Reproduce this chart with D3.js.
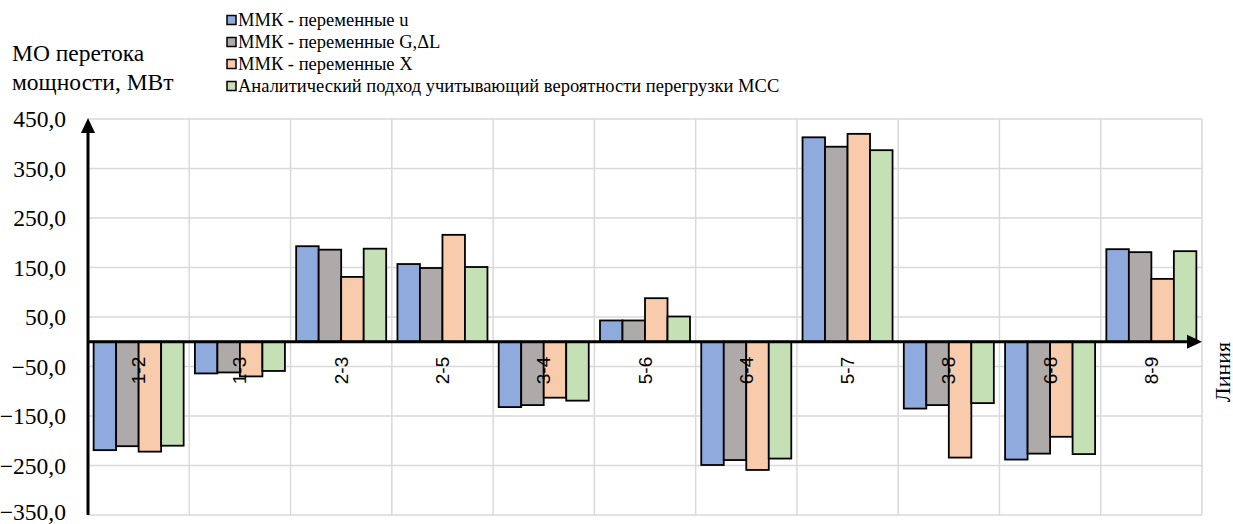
<!DOCTYPE html>
<html>
<head>
<meta charset="utf-8">
<script src="https://cdn.jsdelivr.net/npm/d3@7"></script>
<style>
  html, body { margin: 0; padding: 0; background: #fff; }
  svg { display: block; }
  .serif { font-family: "Liberation Serif", "DejaVu Serif", "Times New Roman", Times, serif; }
  .sans { font-family: "Liberation Sans", Arial, sans-serif; }
</style>
</head>
<body>
<svg id="chart" width="1233" height="524"></svg>
<script>
// Transmission lines (categories)
const lines = ["1-2", "1-3", "2-3", "2-5", "3-4", "5-6", "6-4", "5-7", "3-8", "6-8", "8-9"];

// Expected power flow, MW, for each method
const mmkU     = [-219, -64, 193, 157, -132, 43, -249, 413, -135, -238, 187];
const mmkGdL   = [-211, -62, 186, 149, -128, 43, -239, 394, -128, -226, 181];
const mmkX     = [-222, -70, 131, 216, -113, 88, -259, 420, -234, -192, 127];
const analytic = [-210, -59, 188, 151, -119, 51, -236, 387, -124, -227, 183];

const seriesNames = [
  "ММК - переменные u",
  "ММК - переменные G,\u0394L",
  "ММК - переменные X",
  "Аналитический подход учитывающий вероятности перегрузки МСС"
];
const seriesColors = ["#8faadc", "#aeaaaa", "#f8cbad", "#c5e0b4"];

const yTicks = [450, 350, 250, 150, 50, -50, -150, -250, -350];
const yMin = -350, yMax = 450;

const svg = d3.select("#chart");

const plot = { left: 88, right: 1202, top: 119, bottom: 515 };

const x0 = d3.scaleBand().domain(lines).range([plot.left, plot.right]).padding(0);
const bw = x0.bandwidth();
const gap = bw * (0.5 / 4.5);
const x1 = d3.scaleBand().domain(d3.range(4)).range([gap / 2, bw - gap / 2]).padding(0);
const y = d3.scaleLinear().domain([yMin, yMax]).range([plot.bottom, plot.top]);

const series = [mmkU, mmkGdL, mmkX, analytic];

// Grid
const grid = svg.append("g");
grid.selectAll("line.h").data(yTicks).join("line")
  .attr("x1", plot.left).attr("x2", plot.right)
  .attr("y1", d => y(d)).attr("y2", d => y(d))
  .attr("stroke", "#d9d9d9").attr("stroke-width", 1.5);
grid.selectAll("line.v").data(lines.map(l => x0(l) + bw)).join("line")
  .attr("x1", d => d).attr("x2", d => d)
  .attr("y1", plot.top).attr("y2", plot.bottom)
  .attr("stroke", "#d9d9d9").attr("stroke-width", 1.5);

// Bars
const groups = svg.append("g").selectAll("g").data(lines).join("g")
  .attr("transform", d => `translate(${x0(d)},0)`);
groups.selectAll("rect")
  .data((d, i) => series.map((s, k) => ({ k, v: s[i] })))
  .join("rect")
  .attr("x", d => x1(d.k))
  .attr("width", x1.bandwidth())
  .attr("y", d => Math.min(y(d.v), y(0)))
  .attr("height", d => Math.abs(y(d.v) - y(0)))
  .attr("fill", d => seriesColors[d.k])
  .attr("stroke", "#000").attr("stroke-width", 1.8);

// Category labels, rotated, just below the zero line
svg.append("g").selectAll("text").data(lines).join("text")
  .attr("class", "sans")
  .attr("transform", d => `translate(${x0(d) + bw / 2},${y(0) + 15}) rotate(-90)`)
  .attr("text-anchor", "end")
  .attr("dominant-baseline", "central")
  .style("font-size", "19px")
  .attr("fill", "#000")
  .text(d => d);

// Y tick labels
svg.append("g").selectAll("text").data(yTicks).join("text")
  .attr("class", "serif")
  .attr("x", 66).attr("y", d => Math.min(y(d), 512))
  .attr("text-anchor", "end")
  .attr("dominant-baseline", "central")
  .style("font-size", "23.5px")
  .text(d => d3.format(".1f")(d).replace(".", ","));

// Axes with arrowheads
const axes = svg.append("g");
axes.append("line")
  .attr("x1", plot.left).attr("x2", plot.left)
  .attr("y1", plot.bottom).attr("y2", plot.top + 10)
  .attr("stroke", "#000").attr("stroke-width", 3);
axes.append("path")
  .attr("d", `M${plot.left},${plot.top - 1} L${plot.left - 7},${plot.top + 14} L${plot.left + 7},${plot.top + 14} Z`)
  .attr("fill", "#000");
axes.append("line")
  .attr("x1", plot.left).attr("x2", plot.right - 10)
  .attr("y1", y(0)).attr("y2", y(0))
  .attr("stroke", "#000").attr("stroke-width", 3);
axes.append("path")
  .attr("d", `M${plot.right},${y(0)} L${plot.right - 15},${y(0) - 7} L${plot.right - 15},${y(0) + 7} Z`)
  .attr("fill", "#000");

// Axis titles
const yTitle = svg.append("text")
  .attr("class", "serif").style("font-size", "23.5px").attr("fill", "#000");
yTitle.append("tspan").attr("x", 12).attr("y", 61).text("МО перетока");
yTitle.append("tspan").attr("x", 12).attr("y", 90).text("мощности, МВт");

svg.append("text")
  .attr("class", "serif")
  .attr("transform", `translate(1222,372) rotate(-90)`)
  .attr("text-anchor", "middle")
  .attr("dominant-baseline", "central")
  .style("font-size", "22px")
  .text("Линия");

// Legend
const legend = svg.append("g").selectAll("g").data(seriesNames).join("g")
  .attr("transform", (d, i) => `translate(227,${20 + i * 22})`);
legend.append("rect")
  .attr("x", 0).attr("y", -4.5).attr("width", 9).attr("height", 9)
  .attr("fill", (d, i) => seriesColors[i])
  .attr("stroke", "#000").attr("stroke-width", 1.5);
legend.append("text")
  .attr("class", "serif")
  .attr("x", 11).attr("y", 0)
  .attr("dominant-baseline", "central")
  .style("font-size", "18.5px")
  .text(d => d);
</script>
</body>
</html>
